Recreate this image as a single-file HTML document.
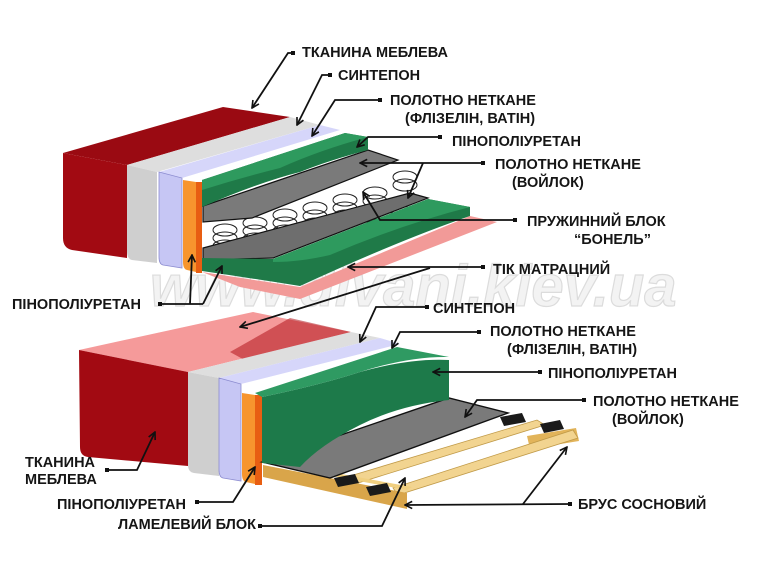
<!DOCTYPE html>
<html><head><meta charset="utf-8"><style>
html,body{margin:0;padding:0;background:#fff;}
svg{display:block;}
text{font-family:"Liberation Sans",Arial,sans-serif;font-weight:bold;font-size:14.5px;fill:#151515;}
</style></head><body>
<svg width="768" height="576" viewBox="0 0 768 576" xmlns="http://www.w3.org/2000/svg">
<defs>
<marker id="a" viewBox="0 0 10 10" refX="9" refY="5" markerWidth="9" markerHeight="9" orient="auto" markerUnits="userSpaceOnUse">
<path d="M1,1 L9,5 L1,9" fill="none" stroke="#111" stroke-width="1.8"/></marker>
</defs>
<rect width="768" height="576" fill="#fff"/>
<text x="150" y="306" style="font-size:58px;font-style:italic;fill:#f3f3f3;stroke:#dcdcdc;stroke-width:1.2">www.divani.kiev.ua</text>

<!-- TOP MATTRESS -->
<polygon points="202,272 300,287 470,216 497,222 300,299 240,287" fill="#f29a98"/>
<polygon points="63,153 223,107 290,117 127,165" fill="#9a0a12"/>
<path d="M63,153 L127,165 L127,258 L72,250 Q63,248 63,238 Z" fill="#a20a12"/>
<polygon points="127,165 290,117 320,125 157,172" fill="#dedede"/>
<path d="M127,165 L157,172 L157,263 L132,260 Q127,259 127,251 Z" fill="#cfcfcf"/>
<polygon points="159,172 320,125 340,130 182,178" fill="#d6d6fa"/>
<path d="M159,172 L182,178 L182,268 L163,265 Q159,264 159,257 Z" fill="#c6c6f4" stroke="#8c8cd0" stroke-width="0.8"/>
<path d="M183,180 L196,182 L196,272 L187,270 Q183,269 183,262 Z" fill="#f7952e"/>
<rect x="196" y="182" width="6" height="91" fill="#e85e12"/>
<!-- springs zone -->
<polygon points="202,205 398,160 470,207 202,262" fill="#ffffff"/>
<g fill="none" stroke="#222" stroke-width="1">
<ellipse cx="225" cy="230" rx="12" ry="6"/><ellipse cx="225" cy="238" rx="12" ry="6"/><ellipse cx="225" cy="246" rx="12" ry="6"/>
<ellipse cx="255" cy="223" rx="12" ry="6"/><ellipse cx="255" cy="231" rx="12" ry="6"/><ellipse cx="255" cy="239" rx="12" ry="6"/>
<ellipse cx="285" cy="215" rx="12" ry="6"/><ellipse cx="285" cy="223" rx="12" ry="6"/><ellipse cx="285" cy="231" rx="12" ry="6"/>
<ellipse cx="315" cy="208" rx="12" ry="6"/><ellipse cx="315" cy="216" rx="12" ry="6"/><ellipse cx="315" cy="224" rx="12" ry="6"/>
<ellipse cx="345" cy="200" rx="12" ry="6"/><ellipse cx="345" cy="208" rx="12" ry="6"/><ellipse cx="345" cy="216" rx="12" ry="6"/>
<ellipse cx="375" cy="193" rx="12" ry="6"/><ellipse cx="375" cy="201" rx="12" ry="6"/>
<ellipse cx="405" cy="185" rx="12" ry="6"/><ellipse cx="405" cy="177" rx="12" ry="6"/>
<ellipse cx="215" cy="252" rx="10" ry="5"/><ellipse cx="245" cy="247" rx="12" ry="6"/><ellipse cx="275" cy="240" rx="12" ry="6"/><ellipse cx="305" cy="233" rx="12" ry="6"/><ellipse cx="335" cy="225" rx="12" ry="6"/><ellipse cx="365" cy="216" rx="12" ry="6"/><ellipse cx="395" cy="207" rx="12" ry="6"/>
</g>
<polygon points="203,206 368,150 398,160 252,218 203,222" fill="#7a7a7a" stroke="#111" stroke-width="1.2"/>
<path d="M202,180 L345,133 L368,137 L368,150 Q330,160 300,172 Q260,182 202,207 Z" fill="#1f7a48"/>
<path d="M202,180 L345,133 L368,137 Q320,150 280,168 Q240,178 202,190 Z" fill="#2e9a5e"/>
<polygon points="203,248 410,193 428,198 273,258 203,260" fill="#6e6e6e" stroke="#111" stroke-width="1.2"/>
<path d="M202,258 L273,259 L428,199 L470,207 L470,216 Q400,240 300,286 Q250,278 202,271 Z" fill="#1f7a48"/>
<path d="M273,259 L428,199 L470,207 Q400,225 330,255 Q300,262 273,262 Z" fill="#2e9a5e"/>

<!-- BOTTOM MATTRESS -->
<polygon points="79,350 253,312 351,332 188,372" fill="#f59a9a"/>
<polygon points="290,318 351,332 250,363 230,352" fill="#b0141c" opacity="0.55"/>
<path d="M79,350 L188,372 L188,466 L88,457 Q80,456 80,447 Z" fill="#a20a12"/>
<polygon points="188,372 351,332 380,338 219,378" fill="#dedede"/>
<path d="M188,372 L219,378 L219,476 L194,473 Q188,472 188,465 Z" fill="#cfcfcf"/>
<polygon points="219,378 380,338 400,344 241,384" fill="#d6d6fa"/>
<path d="M219,378 L241,384 L241,481 L223,478 Q219,477 219,470 Z" fill="#c6c6f4" stroke="#8c8cd0" stroke-width="0.8"/>
<path d="M242,393 L255,395 L255,484 L246,482 Q242,481 242,474 Z" fill="#f7952e"/>
<rect x="255" y="395" width="7" height="90" fill="#e85e12"/>
<!-- wood -->
<polygon points="527,436 576,428 579,441 530,449" fill="#e2b45a"/>
<polygon points="350,476 537,420 545,425 358,483" fill="#f2d490" stroke="#c09a48" stroke-width="0.8"/>
<polygon points="393,488 573,430 578,438 398,495" fill="#f2d490" stroke="#c09a48" stroke-width="0.8"/>
<polygon points="263,465 407,493 407,509 263,477" fill="#d9a54a"/>
<polygon points="263,463 407,490 412,487 275,462" fill="#f0cf80"/>
<!-- felt -->
<polygon points="262,462 449,398 508,413 330,478" fill="#7a7a7a" stroke="#111" stroke-width="1.4"/>
<!-- pads -->
<polygon points="500,417 522,413 526,422 504,426" fill="#1a1a1a"/>
<polygon points="540,424 560,420 564,429 544,433" fill="#1a1a1a"/>
<polygon points="334,478 355,474 359,483 338,487" fill="#1a1a1a"/>
<polygon points="366,487 387,483 391,492 370,496" fill="#1a1a1a"/>
<!-- green block -->
<path d="M262,397 Q320,385 360,372 Q410,358 449,360 L449,400 Q400,405 360,425 Q320,445 300,467 L262,463 Z" fill="#1d7a4a"/>
<path d="M255,393 L397,347 L449,357 Q410,356 360,372 Q320,385 262,397 Z" fill="#2f9a62"/>

<!-- CONNECTORS -->
<g fill="none" stroke="#111" stroke-width="1.8">
<polyline points="293,53 288,53 252,108" marker-end="url(#a)"/>
<polyline points="330,75 322,75 297,125" marker-end="url(#a)"/>
<polyline points="380,100 335,100 312,136" marker-end="url(#a)"/>
<polyline points="440,137 368,137 357,147" marker-end="url(#a)"/>
<polyline points="483,163 360,163" marker-end="url(#a)"/>
<polyline points="423,163 408,198" marker-end="url(#a)"/>
<polyline points="515,220 380,220 363,192" marker-end="url(#a)"/>
<polyline points="483,267 348,267" marker-end="url(#a)"/>
<polyline points="430,268 240,327" marker-end="url(#a)"/>
<polyline points="160,304 203,304"/>
<polyline points="190,304 192,255" marker-end="url(#a)"/>
<polyline points="203,304 222,266" marker-end="url(#a)"/>
<polyline points="427,307 376,307 360,342" marker-end="url(#a)"/>
<polyline points="479,332 400,332 392,348" marker-end="url(#a)"/>
<polyline points="540,372 433,372" marker-end="url(#a)"/>
<polyline points="584,400 477,400 465,417" marker-end="url(#a)"/>
<polyline points="570,504 405,505" marker-end="url(#a)"/>
<polyline points="523,504 567,447" marker-end="url(#a)"/>
<polyline points="107,470 137,470 155,432" marker-end="url(#a)"/>
<polyline points="197,502 233,502 255,467" marker-end="url(#a)"/>
<polyline points="260,526 382,526 405,478" marker-end="url(#a)"/>
</g>
<g fill="#111">
<rect x="291" y="51" width="4" height="4"/><rect x="328" y="73" width="4" height="4"/><rect x="378" y="98" width="4" height="4"/>
<rect x="438" y="135" width="4" height="4"/><rect x="481" y="161" width="4" height="4"/><rect x="513" y="218" width="4" height="4"/>
<rect x="481" y="265" width="4" height="4"/><rect x="158" y="302" width="4" height="4"/><rect x="425" y="305" width="4" height="4"/>
<rect x="477" y="330" width="4" height="4"/><rect x="538" y="370" width="4" height="4"/><rect x="582" y="398" width="4" height="4"/>
<rect x="568" y="502" width="4" height="4"/><rect x="105" y="468" width="4" height="4"/><rect x="195" y="500" width="4" height="4"/>
<rect x="258" y="524" width="4" height="4"/>
</g>

<!-- LABELS -->
<text x="302" y="57">ТКАНИНА МЕБЛЕВА</text>
<text x="338" y="80">СИНТЕПОН</text>
<text x="390" y="105">ПОЛОТНО НЕТКАНЕ</text>
<text x="405" y="123">(ФЛІЗЕЛІН, ВАТІН)</text>
<text x="452" y="146">ПІНОПОЛІУРЕТАН</text>
<text x="495" y="169">ПОЛОТНО НЕТКАНЕ</text>
<text x="512" y="187">(ВОЙЛОК)</text>
<text x="527" y="226">ПРУЖИННИЙ БЛОК</text>
<text x="574" y="244">“БОНЕЛЬ”</text>
<text x="493" y="274">ТІК МАТРАЦНИЙ</text>
<text x="12" y="309">ПІНОПОЛІУРЕТАН</text>
<text x="433" y="313">СИНТЕПОН</text>
<text x="490" y="336">ПОЛОТНО НЕТКАНЕ</text>
<text x="507" y="354">(ФЛІЗЕЛІН, ВАТІН)</text>
<text x="548" y="378">ПІНОПОЛІУРЕТАН</text>
<text x="593" y="406">ПОЛОТНО НЕТКАНЕ</text>
<text x="612" y="424">(ВОЙЛОК)</text>
<text x="25" y="467">ТКАНИНА</text>
<text x="25" y="484">МЕБЛЕВА</text>
<text x="57" y="509">ПІНОПОЛІУРЕТАН</text>
<text x="578" y="509">БРУС СОСНОВИЙ</text>
<text x="118" y="529">ЛАМЕЛЕВИЙ БЛОК</text>
</svg>
</body></html>
